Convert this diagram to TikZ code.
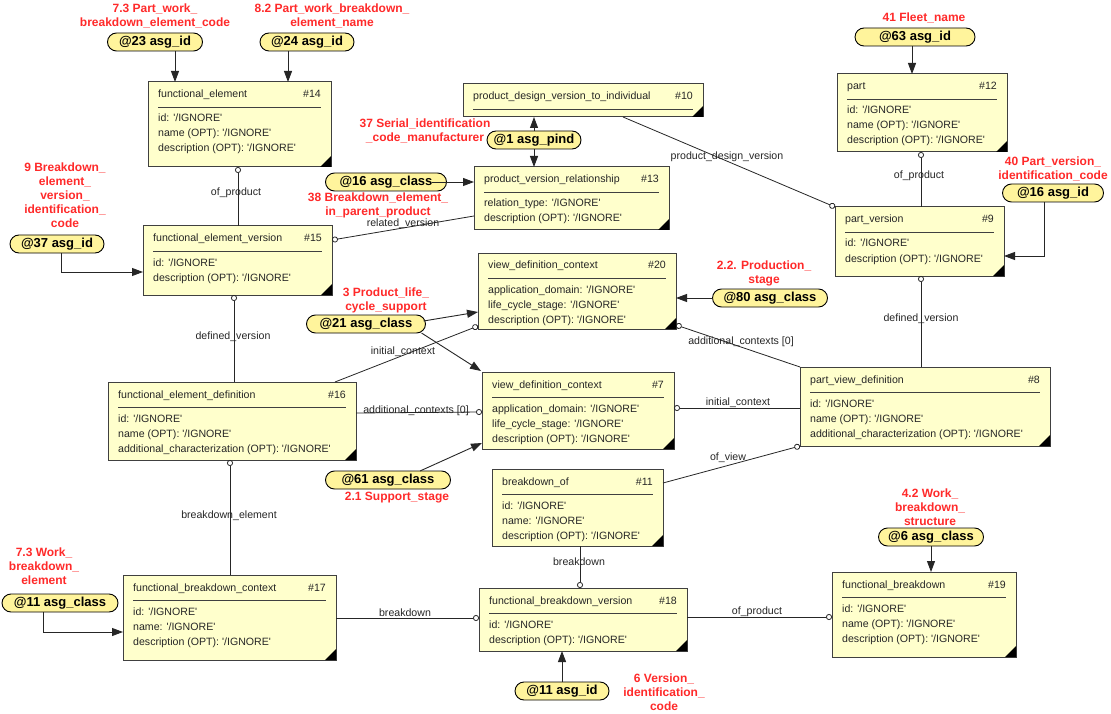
\documentclass[tikz,border=0pt]{standalone}
\usepackage{fontspec}
\newfontfamily\ef{Liberation Sans}
\usetikzlibrary{arrows.meta,calc}
\definecolor{boxfill}{HTML}{FFFFCC}
\definecolor{asgfill}{HTML}{FFF49C}
\definecolor{redlbl}{HTML}{FF2A2A}
\tikzset{
 entbox/.style={draw=black!75, line width=1pt, fill=boxfill, inner sep=0pt, outer sep=0pt},
 txt/.style={font=\ef\fontsize{10.6}{13}\selectfont, inner sep=0pt, text=black!85},
 divider/.style={draw=black!75, line width=0.8pt},
 asg/.style={draw=black, line width=0.9pt, fill=asgfill, rounded corners=9pt, minimum height=18pt, inner sep=0pt, outer sep=0pt, font=\ef\bfseries\fontsize{13}{15}\selectfont},
 redlab/.style={text=redlbl, align=center, font=\ef\bfseries\fontsize{12}{14}\selectfont, inner sep=0pt},
 arr/.style={draw=black!85, line width=0.9pt, -{Triangle[length=11pt,width=8pt]}},
 rel/.style={draw=black!85, line width=0.8pt, -{Circle[open,length=6pt,width=6pt]}},
}
\newcommand\entity[8]{%
 \node[entbox, minimum width=#4pt, minimum height=#5pt, anchor=north west] (#1) at (#2,#3) {};
 \fill[black] (#1.south east) -- ++(-11,0) -- ++(11,-11) -- cycle;
 \node[txt, anchor=base west] at ($(#1.north west)+(10,16)$) {#6};
 \node[txt, anchor=base east] at ($(#1.north east)+(-10,16)$) {#7};
 \draw[divider] ($(#1.north west)+(10,25)$) -- ($(#1.north east)+(-10,25)$);
 \foreach \a [count=\i] in {#8} {\node[txt, anchor=base west] at ($(#1.north west)+(10,25+15*\i)$) {\a};}
}
\begin{document}
\begin{tikzpicture}[x=1pt,y=-1pt]
\useasboundingbox (0,0) rectangle (1111,714);
\fill[white] (0,0) rectangle (1111,714);

% entities
\entity{e14}{148}{82}{183}{85}{functional\_element}{\#14}{id: '/IGNORE', name (OPT): '/IGNORE', description (OPT): '/IGNORE'}
\node[entbox, minimum width=240pt, minimum height=33pt, anchor=north west] (e10) at (463,84) {};
\fill[black] (e10.south east) -- ++(-11,0) -- ++(11,-11) -- cycle;
\node[txt, anchor=base west] at ($(e10.north west)+(10,16)$) {product\_design\_version\_to\_individual};
\node[txt, anchor=base east] at ($(e10.north east)+(-10,16)$) {\#10};
\draw[divider] ($(e10.north west)+(10,25)$) -- ($(e10.north east)+(-10,25)$);
\entity{e13}{474}{167}{195}{63}{product\_version\_relationship}{\#13}{relation\_type: '/IGNORE', description (OPT): '/IGNORE'}
\entity{e15}{143}{226}{189}{69}{functional\_element\_version}{\#15}{id: '/IGNORE', description (OPT): '/IGNORE'}
\entity{e12}{837}{74}{170}{78}{part}{\#12}{id: '/IGNORE', name (OPT): '/IGNORE', description (OPT): '/IGNORE'}
\entity{e9}{835}{207}{169}{69}{part\_version}{\#9}{id: '/IGNORE', description (OPT): '/IGNORE'}
\entity{e20}{478}{253}{198}{76}{view\_definition\_context}{\#20}{application\_domain: '/IGNORE', life\_cycle\_stage: '/IGNORE', description (OPT): '/IGNORE'}
\entity{e7}{482}{372}{192}{77}{view\_definition\_context}{\#7}{application\_domain: '/IGNORE', life\_cycle\_stage: '/IGNORE', description (OPT): '/IGNORE'}
\entity{e16}{108}{382}{248}{78}{functional\_element\_definition}{\#16}{id: '/IGNORE', name (OPT): '/IGNORE', additional\_characterization (OPT): '/IGNORE'}
\entity{e8}{800}{367}{250}{79}{part\_view\_definition}{\#8}{id: '/IGNORE', name (OPT): '/IGNORE', additional\_characterization (OPT): '/IGNORE'}
\entity{e11}{492}{469}{171}{77}{breakdown\_of}{\#11}{id: '/IGNORE', name: '/IGNORE', description (OPT): '/IGNORE'}
\entity{e17}{123}{575}{213}{85}{functional\_breakdown\_context}{\#17}{id: '/IGNORE', name: '/IGNORE', description (OPT): '/IGNORE'}
\entity{e18}{479}{588}{208}{63}{functional\_breakdown\_version}{\#18}{id: '/IGNORE', description (OPT): '/IGNORE'}
\entity{e19}{832}{572}{184}{85}{functional\_breakdown}{\#19}{id: '/IGNORE', name (OPT): '/IGNORE', description (OPT): '/IGNORE'}

% relationship lines
\draw[rel] ($(e15.north west)+(95,0)$) coordinate (t1) -- (t1 |- e14.south);
\draw[rel] ($(e13.north west)+(0,49)$) -- ($(e15.north east)+(0,14)$);
\draw[rel] ($(e10.south west)+(160,0)$) -- (e9.north west);
\draw[rel] ($(e9.north west)+(86,0)$) coordinate (t2) -- (t2 |- e12.south);
\draw[rel] ($(e16.north west)+(126,0)$) coordinate (t3) -- (t3 |- e15.south);
\draw[rel] ($(e16.north west)+(227,0)$) -- ($(e20.south west)+(0,-3)$);
\draw[rel] ($(e16.north east)+(0,31)$) -- ($(e7.north west)+(0,40)$);
\draw[rel] ($(e8.north west)+(121,0)$) coordinate (t4) -- (t4 |- e9.south);
\draw[rel] (e8.north west) -- ($(e20.south east)+(0,-4)$);
\draw[rel] ($(e8.north west)+(0,41)$) -- ($(e7.north east)+(0,36)$);
\draw[rel] ($(e11.north east)+(0,14)$) -- (e8.south west);
\draw[rel] ($(e17.north west)+(107,0)$) coordinate (t5) -- (t5 |- e16.south);
\draw[rel] ($(e17.north east)+(0,43)$) -- ($(e18.north west)+(0,30)$);
\draw[rel] ($(e11.south west)+(88,0)$) coordinate (t6) -- (t6 |- e18.north);
\draw[rel] ($(e18.north east)+(0,29)$) -- ($(e19.north west)+(0,45)$);

% relationship labels
\node[txt] at (236,193) {of\_product};
\node[txt] at (403,224) {related\_version};
\node[txt] at (727,157) {product\_design\_version};
\node[txt] at (919,176) {of\_product};
\node[txt] at (233,337) {defined\_version};
\node[txt] at (403,352) {initial\_context};
\node[txt] at (416,411) {additional\_contexts [0]};
\node[txt] at (921,319) {defined\_version};
\node[txt] at (741,342) {additional\_contexts [0]};
\node[txt] at (738,403) {initial\_context};
\node[txt] at (728,458) {of\_view};
\node[txt] at (229,516) {breakdown\_element};
\node[txt] at (405,613) {breakdown};
\node[txt] at (579,562) {breakdown};
\node[txt] at (757,612) {of\_product};

% asg ovals
\node[asg, minimum width=95pt] (a23) at (155,42) {@23 asg\_id};
\node[asg, minimum width=94pt] (a24) at (307,42) {@24 asg\_id};
\node[asg, minimum width=94pt] (a1) at (534,140) {@1 asg\_pind};
\node[asg, minimum width=121pt] (a16c) at (386,182) {@16 asg\_class};
\node[asg, minimum width=94pt] (a37) at (57,244) {@37 asg\_id};
\node[asg, minimum width=120pt] (a63) at (915,37) {@63 asg\_id};
\node[asg, minimum width=101pt] (a16i) at (1053,193) {@16 asg\_id};
\node[asg, minimum width=119pt] (a21) at (366,324) {@21 asg\_class};
\node[asg, minimum width=115pt] (a80) at (770,298) {@80 asg\_class};
\node[asg, minimum width=125pt] (a61) at (388,480) {@61 asg\_class};
\node[asg, minimum width=116pt] (a11c) at (60,603) {@11 asg\_class};
\node[asg, minimum width=94pt] (a11i) at (562,691) {@11 asg\_id};
\node[asg, minimum width=105pt] (a6) at (931,537) {@6 asg\_class};

% asg arrows
\draw[arr] ($(a23.south)+(20,0)$) coordinate (s1) -- (s1 |- e14.north);
\draw[arr] ($(a24.south)+(-19,0)$) coordinate (s2) -- (s2 |- e14.north);
\draw[arr] (a1.north) -- (a1.north |- e10.south);
\draw[arr] (a1.south) -- (a1.south |- e13.north);
\draw[arr] ($(a16c.east)+(-15,0)$) -- (a16c.east -| e13.west);
\draw[arr] ($(a37.south)+(4,0)$) |- ($(e15.north west)+(0,46)$);
\draw[arr] ($(a63.south)+(-3,0)$) coordinate (s3) -- (s3 |- e12.north);
\draw[arr] ($(a16i.south)+(-9,0)$) |- ($(e9.north east)+(0,49)$);
\draw[arr] ($(a21.east)+(-2,-3)$) -- ($(e20.north west)+(0,59)$);
\draw[arr] ($(a21.south east)+(-4,0)$) -- ($(e7.north west)+(-1,-1)$);
\draw[arr] ($(a61.north)+(32,0)$) -- ($(e7.north west)+(0,71)$);
\draw[arr] (a80.west) -- (a80.west -| e20.east);
\draw[arr] (a6.south) -- (a6.south |- e19.north);
\draw[arr] ($(a11c.south)+(-17,0)$) |- ($(e17.north west)+(0,57)$);
\draw[arr] (a11i.north) -- (a11i.north |- e18.south);

% red labels
\node[redlab] at (155,16) {7.3 Part\_work\_\\breakdown\_element\_code};
\node[redlab] at (332,16) {8.2 Part\_work\_breakdown\_\\element\_name};
\node[redlab] at (924,18) {41 Fleet\_name};
\node[redlab] at (425,131) {37 Serial\_identification\\\_code\_manufacturer};
\node[redlab] at (378,205) {38 Breakdown\_element\_\\in\_parent\_product};
\node[redlab] at (65,195) {9 Breakdown\_\\element\_\\version\_\\identification\_\\code};
\node[redlab] at (1053,169) {40 Part\_version\_\\identification\_code};
\node[redlab] at (386,300) {3 Product\_life\_\\cycle\_support};
\node[redlab] at (764,273) {2.2. Production\_\\stage};
\node[redlab] at (397,498) {2.1 Support\_stage};
\node[redlab] at (44,566) {7.3 Work\_\\breakdown\_\\element};
\node[redlab] at (930,507) {4.2 Work\_\\breakdown\_\\structure};
\node[redlab] at (664,692) {6 Version\_\\identification\_\\code};
\end{tikzpicture}
\end{document}
